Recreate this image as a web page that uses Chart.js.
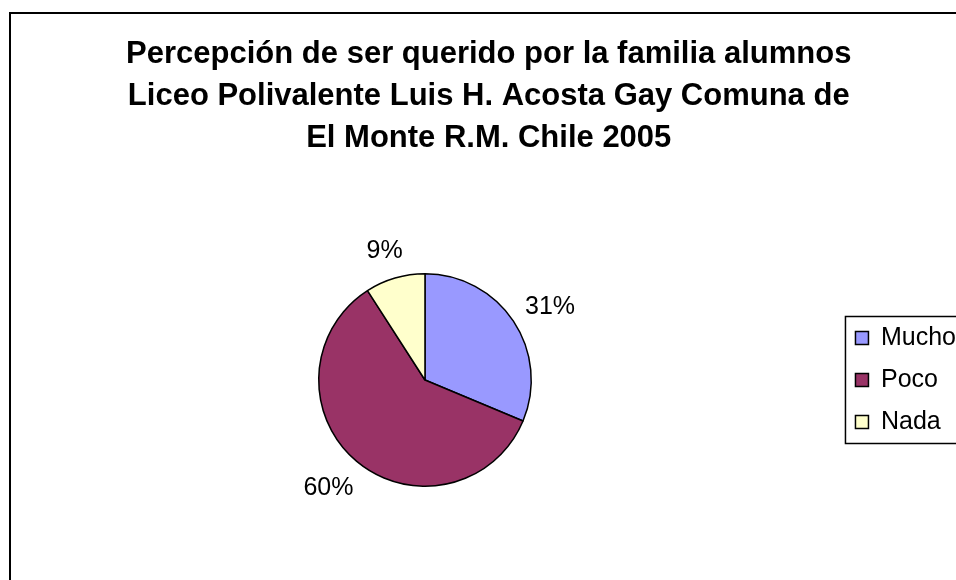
<!DOCTYPE html>
<html>
<head>
<meta charset="utf-8">
<script src="https://cdn.jsdelivr.net/npm/chart.js@4.4.0/dist/chart.umd.min.js"></script>
<style>
    html, body { margin: 0; padding: 0; background: #fff; overflow: hidden; }
    #wrap { position: relative; width: 956px; height: 580px; }
    #frame { position: absolute; left: 9px; top: 12px; width: 1000px; height: 700px; border: 2px solid #000; box-sizing: border-box; }
    #chart { position: absolute; left: 0; top: 0; }
</style>
</head>
<body>
<div id="wrap">
    <div id="frame"></div>
    <canvas id="chart" width="956" height="580"></canvas>
</div>
<script>
const titleLines = [
    'Percepción de ser querido por la familia alumnos',
    'Liceo Polivalente Luis H. Acosta Gay Comuna de',
    'El Monte R.M. Chile 2005'
];
const categories = ['Mucho', 'Poco', 'Nada'];
const shares = [31.3, 59.6, 9.1];
const sliceColors = ['#9999FF', '#993366', '#FFFFCC'];

const FONT = "'Liberation Sans', Arial, sans-serif";
Chart.defaults.font.family = FONT;
Chart.defaults.color = '#000';

// percentage labels outside the slices
const outsideLabels = {
    id: 'outsideLabels',
    afterDatasetsDraw(chart) {
        const ctx = chart.ctx;
        const meta = chart.getDatasetMeta(0);
        const values = chart.data.datasets[0].data;
        const total = values.reduce((a, b) => a + b, 0);
        ctx.save();
        ctx.font = '25px ' + FONT;
        ctx.fillStyle = '#000';
        ctx.textAlign = 'center';
        ctx.textBaseline = 'middle';
        meta.data.forEach((arc, i) => {
            const p = arc.getProps(['x', 'y', 'startAngle', 'endAngle', 'outerRadius'], true);
            const mid = (p.startAngle + p.endAngle) / 2;
            const txt = Math.round(values[i] / total * 100) + '%';
            const w = ctx.measureText(txt).width;
            const c = Math.cos(mid), s = Math.sin(mid);
            const d = p.outerRadius + 19;
            ctx.fillText(txt, p.x + c * d + c * w / 2, p.y + s * d + s * 12.5 + 3);
        });
        ctx.restore();
    }
};

// frame around the legend, open to the right like the original
const legendFrame = {
    id: 'legendFrame',
    afterDraw(chart) {
        const hb = chart.legend.legendHitBoxes;
        if (!hb || !hb.length) return;
        const last = hb[hb.length - 1];
        const ctx = chart.ctx;
        ctx.save();
        ctx.strokeStyle = '#000';
        ctx.lineWidth = 1.5;
        const left = hb[0].left - 10;
        const top = hb[0].top - 9;
        const bottom = last.top + last.height + 9;
        ctx.strokeRect(left, top, chart.width + 20 - left, bottom - top);
        ctx.restore();
    }
};

new Chart(document.getElementById('chart'), {
    type: 'pie',
    data: {
        labels: categories,
        datasets: [{
            data: shares,
            backgroundColor: sliceColors,
            borderColor: '#000',
            borderWidth: 1.5
        }]
    },
    options: {
        responsive: false,
        animation: false,
        devicePixelRatio: 1,
        layout: { padding: { left: 11.5, right: -10, top: 0, bottom: 93 } },
        plugins: {
            title: {
                display: true,
                text: titleLines,
                color: '#000',
                font: { size: 31, weight: 'bold', lineHeight: 42 / 31 },
                padding: { top: 33, bottom: 114 }
            },
            legend: {
                position: 'right',
                fullSize: false,
                labels: {
                    boxWidth: 13,
                    boxHeight: 13,
                    padding: 17,
                    color: '#000',
                    font: { size: 25 }
                }
            },
            tooltip: { enabled: false }
        }
    },
    plugins: [outsideLabels, legendFrame]
});
</script>
</body>
</html>
